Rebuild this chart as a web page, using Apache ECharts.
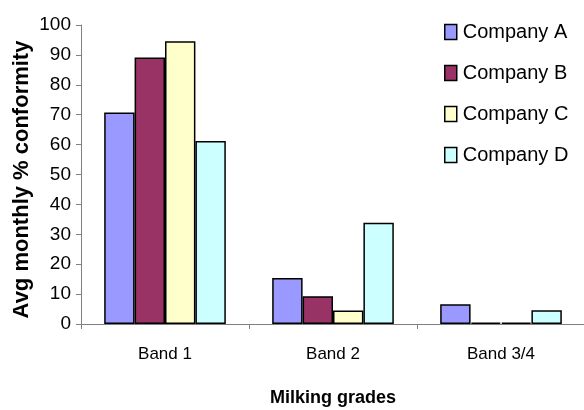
<!DOCTYPE html>
<html><head><meta charset="utf-8">
<script src="https://cdn.jsdelivr.net/npm/echarts@6/dist/echarts.min.js"></script>
<style>html,body{margin:0;padding:0;background:#fff}#c{width:584px;height:410px}</style>
</head><body><div id="c"></div>
<script>
const categories = ['Band 1', 'Band 2', 'Band 3/4'];
const companyA = [70.7, 15.4, 6.6];
const companyB = [89.1, 9.3, 0.5];
const companyC = [94.6, 4.5, 0.5];
const companyD = [61.2, 33.9, 4.6];
const seriesNames = ['Company A', 'Company B', 'Company C', 'Company D'];
const colors = ['#9999FF', '#993366', '#FFFFCC', '#CCFFFF'];
const values = [companyA, companyB, companyC, companyD];

const chart = echarts.init(document.getElementById('c'), null, {renderer: 'canvas'});
const font = 'Liberation Sans, Arial, sans-serif';
chart.setOption({
  animation: false,
  backgroundColor: '#fff',
  color: colors,
  grid: {left: 81, top: 25, right: -1, bottom: 86, containLabel: false, outerBoundsMode: 'none'},
  legend: {
    orient: 'vertical', left: 439, top: 17,
    itemWidth: 12, itemHeight: 15, itemGap: 21,
    icon: 'rect',
    textStyle: {fontFamily: font, fontSize: 20, color: '#000', padding: [0, 0, 0, 1]},
    itemStyle: {borderColor: '#000', borderWidth: 1.5}
  },
  xAxis: {
    type: 'category', data: categories,
    name: 'Milking grades', nameLocation: 'middle', nameGap: 65, nameMoveOverlap: false,
    nameTextStyle: {fontFamily: font, fontSize: 18, fontWeight: 'bold', color: '#000'},
    axisLine: {lineStyle: {color: '#808080', width: 1}},
    axisTick: {show: true, alignWithLabel: false, length: 5, lineStyle: {color: '#808080'}},
    axisLabel: {fontFamily: font, fontSize: 17, color: '#000', margin: 22}
  },
  yAxis: {
    type: 'value', min: 0, max: 100, interval: 10,
    name: 'Avg monthly % conformity', nameLocation: 'middle', nameGap: 48, nameMoveOverlap: false,
    nameTextStyle: {fontFamily: font, fontSize: 22, fontWeight: 'bold', color: '#000', padding: [0, 10, 0, 0]},
    axisLine: {show: true, lineStyle: {color: '#808080', width: 1}},
    axisTick: {show: true, length: 5, lineStyle: {color: '#808080'}},
    splitLine: {show: false},
    axisLabel: {fontFamily: font, fontSize: 19, color: '#000', margin: 10}
  },
  series: seriesNames.map((n, i) => ({
    name: n, type: 'bar', data: values[i],
    barGap: '0%', barCategoryGap: '27.6%',
    itemStyle: {color: colors[i], borderColor: '#000', borderWidth: 1.5}
  }))
});
</script></body></html>
